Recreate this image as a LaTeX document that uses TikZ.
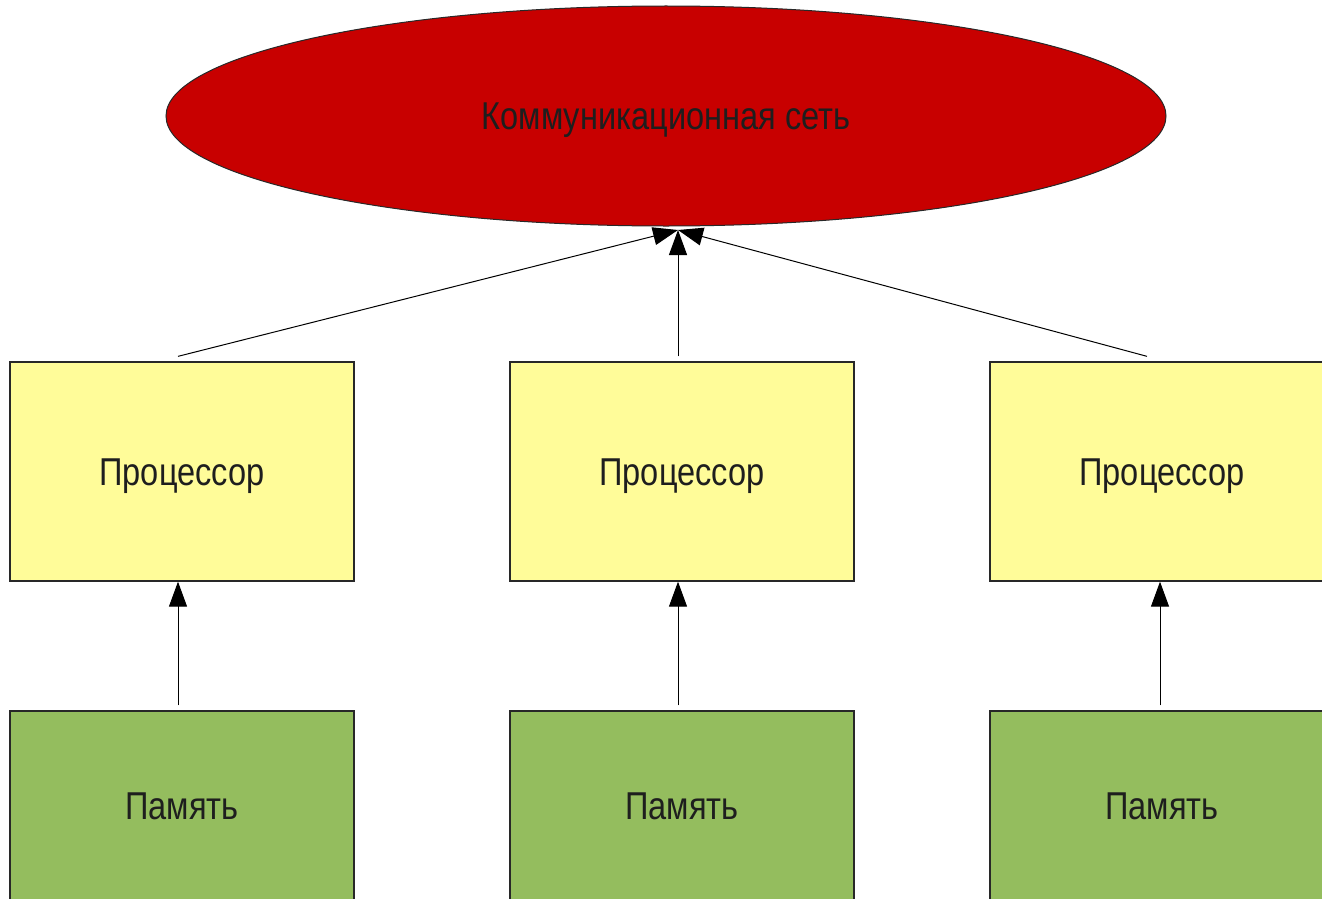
\documentclass[tikz,border=0pt]{standalone}
\usepackage{fontspec}
\setmainfont{Liberation Sans}
\usetikzlibrary{shapes.geometric,arrows.meta,calc}
\definecolor{netred}{RGB}{200,0,0}
\definecolor{procyellow}{RGB}{255,252,153}
\definecolor{memgreen}{RGB}{148,189,94}
\definecolor{edgegray}{RGB}{40,40,40}
\definecolor{txt}{RGB}{30,30,30}
\tikzset{
  box/.style={draw=edgegray, line width=1.3pt, minimum width=344pt, inner sep=0pt, text=txt, font=\fontsize{37}{42}\selectfont},
  procbox/.style={box, fill=procyellow, minimum height=219pt, text height=30pt, text depth=3pt},
  membox/.style={box, fill=memgreen, minimum height=190pt},
  netnode/.style={ellipse, draw=edgegray, line width=1pt, fill=netred, minimum width=1000pt, minimum height=220pt, inner sep=0pt, text=txt, font=\fontsize{37}{42}\selectfont, text height=30pt, text depth=3pt},
  conn/.style={draw=black, line width=1pt, -{Triangle[length=25pt,width=18pt]}}
}
\begin{document}
\begin{tikzpicture}[x=1pt,y=1pt]
\useasboundingbox (0,0) rectangle (1322,-899);
\clip (0,0) rectangle (1322,-899);
\node[netnode] (net) at (666,-116) {\scalebox{0.88}[1.05]{Коммуникационная сеть}};
\coordinate (hub) at (678,-230);
\node[procbox] (p1) at (182,-471.5) {\scalebox{0.88}[1.05]{Процессор}};
\node[procbox] (p2) at (682,-471.5) {\scalebox{0.88}[1.05]{Процессор}};
\node[procbox] (p3) at (1162,-471.5) {\scalebox{0.88}[1.05]{Процессор}};
\node[membox] (m1) at (182,-806) {\scalebox{0.88}[1.05]{Память}};
\node[membox] (m2) at (682,-806) {\scalebox{0.88}[1.05]{Память}};
\node[membox] (m3) at (1162,-806) {\scalebox{0.88}[1.05]{Память}};
\draw[conn] ($(p1.north)+(-4,5)$) -- (hub);
\draw[conn] ($(p2.north)+(-4,5)$) -- (hub);
\draw[conn] ($(p3.north)+(-15,5)$) -- (hub);
\draw[conn] ($(m1.north)+(-4,5)$) -- ($(p1.south)+(-4,0)$);
\draw[conn] ($(m2.north)+(-4,5)$) -- ($(p2.south)+(-4,0)$);
\draw[conn] ($(m3.north)+(-2,5)$) -- ($(p3.south)+(-2,0)$);
\end{tikzpicture}
\end{document}
